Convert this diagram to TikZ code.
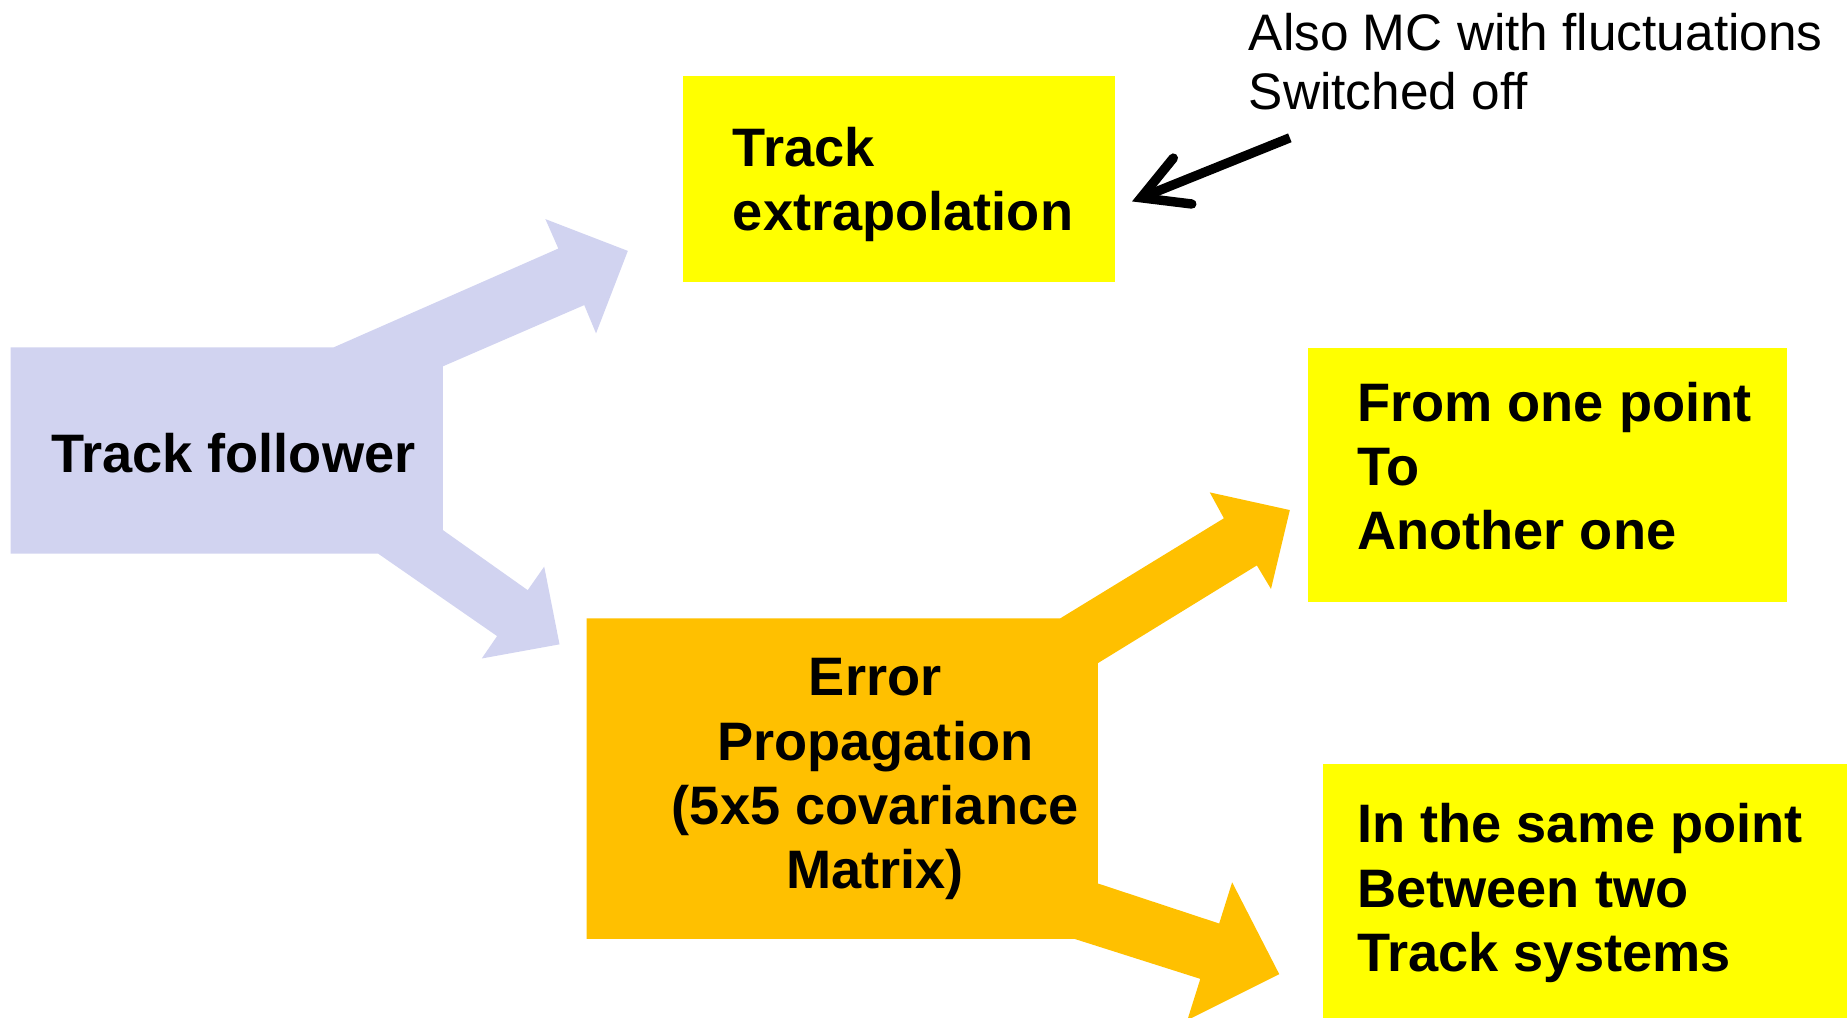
\documentclass[tikz,border=0pt]{standalone}
\usepackage{fontspec}
\setmainfont{Liberation Sans}
\usetikzlibrary{arrows.meta}
\definecolor{lav}{RGB}{209,211,240}
\definecolor{orng}{RGB}{255,192,0}
\definecolor{ylw}{RGB}{255,255,0}
\begin{document}
\begin{tikzpicture}[x=1pt,y=-1pt,
  btext/.style={font=\bfseries\fontsize{46}{54.5}\selectfont, inner sep=0pt, text=black},
  ntext/.style={font=\fontsize{43.6}{50}\selectfont, inner sep=0pt, align=left, text=black},
  boxshape/.style={inner sep=0pt, draw=none, anchor=north west},
  annarrow/.style={line width=8pt, line cap=butt,
    -{Straight Barb[length=38pt, width=42pt, line cap=round, line join=miter]}}]
\useasboundingbox (0,0) rectangle (1568,864);
\clip (0,0) rectangle (1568,864);

% Track follower (lavender) box with its two block arrows, one shape
\fill[lav] (9,295) -- (283,295) -- (474,211) -- (463,186) -- (533,213) -- (506,283) -- (496,259)
  -- (376,311) -- (376,450) -- (448,501) -- (462,481) -- (475,547) -- (409,559) -- (422,540)
  -- (321,470) -- (9,470) -- cycle;
\node[boxshape, minimum width=367pt, minimum height=175pt] (tf) at (9,295) {};
\node[btext, anchor=base] (tfT) at (198,401) {Track follower};

% Track extrapolation
\node[boxshape, fill=ylw, minimum width=366pt, minimum height=175pt] (ext) at (580,64) {};
\node[btext, align=left, anchor=north west] (extT) at (622,108) {Track\\extrapolation};

% Error propagation (orange) box with its two block arrows, one shape
\fill[orng] (498,525) -- (900,525) -- (1039,440) -- (1027,418) -- (1095,433) -- (1079,500) -- (1067,480)
  -- (932,563) -- (932,750) -- (1035,784) -- (1046,749) -- (1086,827) -- (1008,866) -- (1019,831)
  -- (912,797) -- (498,797) -- cycle;
\node[boxshape, minimum width=434pt, minimum height=272pt] (err) at (498,525) {};
\node[btext, align=center, anchor=north] (errT) at (743,559) {Error\\Propagation\\(5x5 covariance\\Matrix)};

% From one point to another one
\node[boxshape, fill=ylw, minimum width=407pt, minimum height=216pt] (ftp) at (1110,295) {};
\node[btext, align=left, anchor=north west] (ftpT) at (1152,324) {From one point\\To\\Another one};

% In the same point
\node[boxshape, fill=ylw, minimum width=460pt, minimum height=230pt] (same) at (1123,648) {};
\node[btext, align=left, anchor=north west] (sameT) at (1152,682) {In the same point\\Between two\\Track systems};

% Annotation
\node[ntext, anchor=north west] (ann) at (1060,11) {Also MC with fluctuations\\Switched off};
\coordinate (annTail) at (1095,117);
\coordinate (annTip) at (961,171);
\draw[annarrow] (annTail) -- (annTip);
\end{tikzpicture}
\end{document}
